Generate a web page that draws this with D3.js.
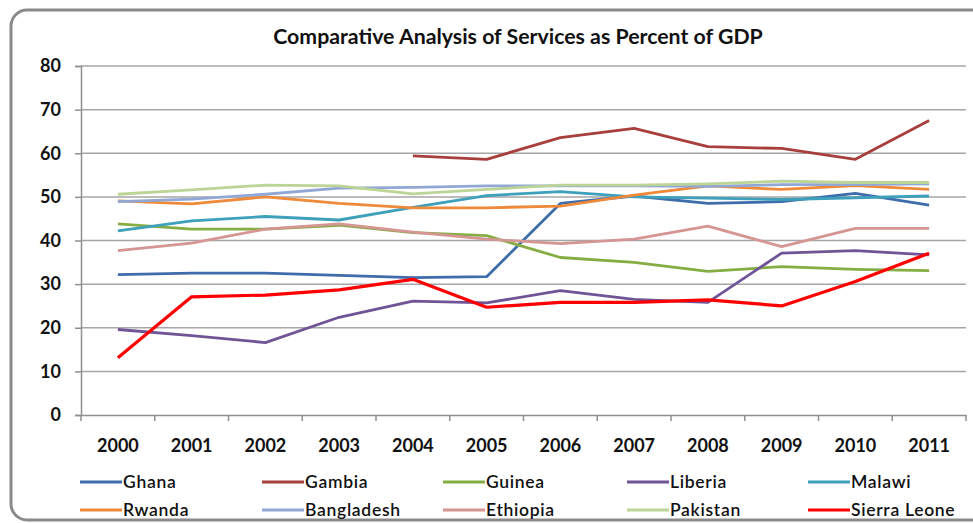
<!DOCTYPE html>
<html><head><meta charset="utf-8">
<script src="https://cdn.jsdelivr.net/npm/d3@7"></script>
<style>
html,body{margin:0;padding:0;background:#fff;}
svg{display:block;}
text{font-family:Lato,"Open Sans",sans-serif;fill:#111;}
</style></head>
<body>
<svg id="c" width="973" height="523"></svg>
<script>
const years = ["2000","2001","2002","2003","2004","2005","2006","2007","2008","2009","2010","2011"];
const yTicks = [0,10,20,30,40,50,60,70,80];
const title = "Comparative Analysis of Services as Percent of GDP";

const countries = ["Ghana","Gambia","Guinea","Liberia","Malawi","Rwanda","Bangladesh","Ethiopia","Pakistan","Sierra Leone"];
const colors = ["#3f6cab","#a83f3d","#86ad43","#6f5496","#3ea0bb","#ee8a3a","#91a8d6","#d49593","#bdd497","#ff0000"];

const ghana       = [32.2,32.5,32.5,32.0,31.5,31.7,48.5,50.2,48.5,48.9,50.8,48.1];
const gambia      = [null,null,null,null,59.4,58.6,63.6,65.7,61.5,61.1,58.6,67.5];
const guinea      = [43.8,42.6,42.6,43.5,41.8,41.1,36.1,35.0,32.9,34.0,33.4,33.1];
const liberia     = [19.6,18.2,16.6,22.4,26.1,25.7,28.5,26.5,25.8,37.1,37.7,36.7];
const malawi      = [42.2,44.5,45.5,44.7,47.6,50.3,51.2,50.0,49.7,49.4,49.8,50.2];
const rwanda      = [49.1,48.4,50.0,48.5,47.5,47.5,47.9,50.4,52.5,51.7,52.6,51.7];
const bangladesh  = [48.9,49.5,50.6,52.0,52.2,52.5,52.5,52.5,52.4,52.8,52.8,53.0];
const ethiopia    = [37.7,39.4,42.6,43.8,41.9,40.3,39.3,40.3,43.3,38.6,42.8,42.8];
const pakistan    = [50.6,51.6,52.7,52.5,50.7,51.7,52.7,52.7,53.0,53.6,53.3,53.3];
const sierraLeone = [13.1,27.1,27.5,28.7,31.1,24.7,25.8,25.8,26.4,25.0,30.6,37.1];

const seriesValues = [ghana,gambia,guinea,liberia,malawi,rwanda,bangladesh,ethiopia,pakistan,sierraLeone];

const svg = d3.select("#c");
const L = 81, R = 966, T = 66, B = 415;
const FONT = "Lato,'Open Sans',sans-serif";

// frame
svg.append("rect").attr("x",11).attr("y",10).attr("width",980).attr("height",510)
  .attr("rx",16).attr("ry",16).attr("fill","#fff").attr("stroke","#8a8a8a").attr("stroke-width",3);

svg.append("text").attr("x",518).attr("y",44).attr("text-anchor","middle")
  .attr("font-size",21.3).attr("font-weight","bold").text(title);

const x = d3.scaleBand().domain(years).range([L,R]).paddingInner(0).paddingOuter(0);
const y = d3.scaleLinear().domain([0,80]).range([B,T]);

// gridlines
svg.append("g").selectAll("line").data(yTicks.filter(d=>d>0)).join("line")
  .attr("x1",L).attr("x2",R).attr("y1",d=>y(d)).attr("y2",d=>y(d))
  .attr("stroke","#a6a6a6").attr("stroke-width",1.5);

// y axis
const yAxis = svg.append("g").attr("transform",`translate(${L},0)`)
  .call(d3.axisLeft(y).tickValues(yTicks).tickSize(6).tickPadding(14).tickFormat(d3.format("d")));
yAxis.select(".domain").attr("stroke","#8f8f8f").attr("stroke-width",1.5);
yAxis.selectAll(".tick line").attr("stroke","#8f8f8f").attr("stroke-width",1.5);
yAxis.selectAll("text").attr("font-size",18).attr("font-weight","bold").attr("fill","#111")
  .style("font-family",FONT);

// x axis
const xAxis = svg.append("g").attr("transform",`translate(0,${B})`)
  .call(d3.axisBottom(x).tickSize(0).tickPadding(24));
xAxis.select(".domain").attr("stroke","#8f8f8f").attr("stroke-width",1.5);
xAxis.selectAll("text").attr("font-size",18).attr("font-weight","bold").attr("fill","#111")
  .style("font-family",FONT);
// category boundary ticks
const bounds = years.map(d=>x(d)).concat([x(years[years.length-1])+x.bandwidth()]);
svg.append("g").selectAll("line").data(bounds).join("line")
  .attr("x1",d=>d).attr("x2",d=>d).attr("y1",B).attr("y2",B+6)
  .attr("stroke","#8f8f8f").attr("stroke-width",1.5);

// lines
const line = d3.line()
  .defined(d=>d.v!==null)
  .x(d=>x(d.year)+x.bandwidth()/2)
  .y(d=>y(d.v));
countries.forEach((c,i)=>{
  const data = years.map((yr,j)=>({year:yr,v:seriesValues[i][j]}));
  svg.append("path").datum(data).attr("d",line).attr("fill","none")
    .attr("stroke",colors[i]).attr("stroke-width",i===9?3.2:2.8)
    .attr("stroke-linejoin","round").attr("stroke-linecap","butt");
});

// legend
const colX = [80,262,443,627,808];
const rowY = [482,510];
countries.forEach((c,i)=>{
  const cx = colX[i%5], cy = rowY[Math.floor(i/5)];
  svg.append("line").attr("x1",cx).attr("x2",cx+42).attr("y1",cy).attr("y2",cy)
    .attr("stroke",colors[i]).attr("stroke-width",3);
  svg.append("text").attr("x",cx+43).attr("y",cy).attr("dy","0.35em")
    .attr("font-size",17.5).attr("font-weight",600).attr("letter-spacing","0.7px").text(c);
});
</script>
</body></html>
